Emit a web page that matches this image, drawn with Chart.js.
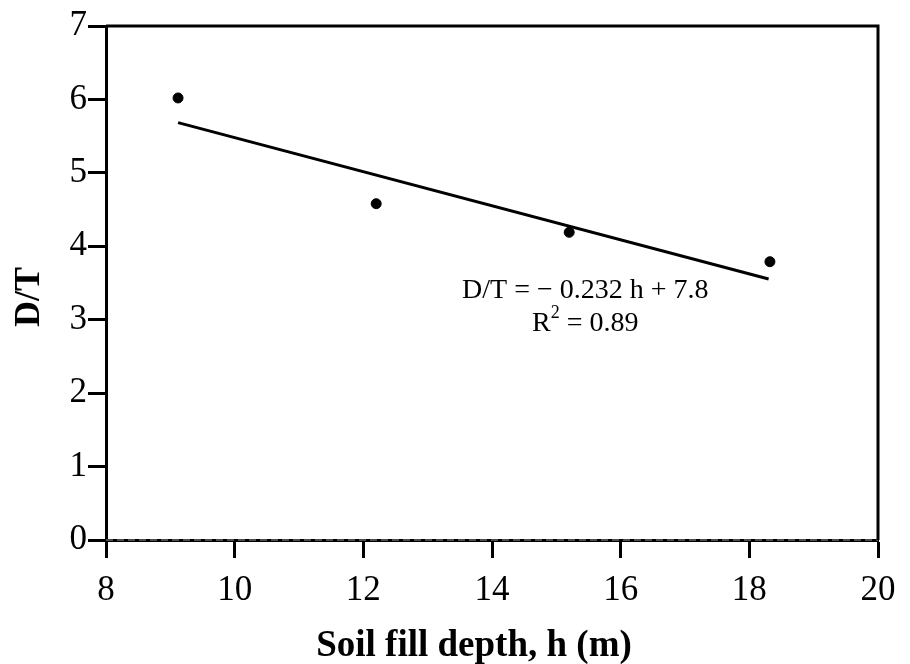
<!DOCTYPE html>
<html>
<head>
<meta charset="utf-8">
<script src="https://cdn.jsdelivr.net/npm/chart.js@4.4.0/dist/chart.umd.min.js"></script>
<style>
  body { margin: 0; background: #fff; }
  #dt { display: block; }
</style>
</head>
<body>
<canvas id="dt" width="910" height="664"></canvas>
<script>
// measured D/T ratios against soil fill depth
const depth = [9.12, 12.2, 15.2, 18.32];
const ratio = [6.02, 4.58, 4.19, 3.79];

// least-squares fit shown on the plot
const slope = -0.232;
const intercept = 7.8;
const fitRange = [9.12, 18.3];

const xTicks = [8, 10, 12, 14, 16, 18, 20];
const yTicks = [0, 1, 2, 3, 4, 5, 6, 7];

const xTitle = 'Soil fill depth, h (m)';
const yTitle = 'D/T';

const serif = "'Liberation Serif', 'Times New Roman', serif";

const points = depth.map((h, i) => ({ x: h, y: ratio[i] }));
const fitLine = fitRange.map(h => ({ x: h, y: slope * h + intercept }));

// closes the box on the top and right sides
const frame = {
  id: 'frame',
  afterDraw(chart) {
    const { ctx, chartArea: a } = chart;
    ctx.save();
    ctx.strokeStyle = '#000';
    ctx.lineWidth = 3;
    ctx.beginPath();
    ctx.moveTo(a.left, a.top);
    ctx.lineTo(a.right, a.top);
    ctx.lineTo(a.right, a.bottom);
    ctx.stroke();
    ctx.restore();
  }
};

// axis titles, set a little off the axis centres
const titles = {
  id: 'titles',
  afterDraw(chart) {
    const { ctx } = chart;
    ctx.save();
    ctx.fillStyle = '#000';
    ctx.textAlign = 'center';
    ctx.textBaseline = 'middle';
    ctx.font = 'bold 37px ' + serif;
    ctx.fillText(xTitle, 474, 646);
    ctx.translate(30, 297);
    ctx.rotate(-Math.PI / 2);
    ctx.font = 'bold 36px ' + serif;
    ctx.fillText(yTitle, 0, 0);
    ctx.restore();
  }
};

// regression equation text
const equation = {
  id: 'equation',
  afterDatasetsDraw(chart) {
    const { ctx, scales: { x, y } } = chart;
    const cx = x.getPixelForValue(15.45);
    const y1 = y.getPixelForValue(3.39);
    const y2 = y.getPixelForValue(2.95);
    ctx.save();
    ctx.fillStyle = '#000';
    ctx.textBaseline = 'middle';
    ctx.font = '28px ' + serif;
    ctx.textAlign = 'center';
    ctx.fillText('D/T = \u2212 0.232 h + 7.8', cx, y1);

    // R² with a raised small 2
    const big = '28px ' + serif, small = '18px ' + serif;
    ctx.font = big;
    const wR = ctx.measureText('R').width;
    const wRest = ctx.measureText(' = 0.89').width;
    ctx.font = small;
    const w2 = ctx.measureText('2').width;
    let sx = cx - (wR + w2 + wRest) / 2;
    ctx.textAlign = 'left';
    ctx.font = big;
    ctx.fillText('R', sx, y2);
    ctx.font = small;
    ctx.fillText('2', sx + wR, y2 - 10);
    ctx.font = big;
    ctx.fillText(' = 0.89', sx + wR + w2, y2);
    ctx.restore();
  }
};

new Chart(document.getElementById('dt'), {
  type: 'scatter',
  data: {
    datasets: [
      {
        data: points,
        backgroundColor: '#000',
        borderColor: '#000',
        pointRadius: 5,
        pointHoverRadius: 5
      },
      {
        type: 'line',
        data: fitLine,
        borderColor: '#000',
        borderWidth: 3,
        pointRadius: 0,
        fill: false
      },
      {
        type: 'line',
        data: [{ x: 8, y: 0 }, { x: 20, y: 0 }],
        borderColor: '#9a9a9a',
        borderWidth: 1,
        borderDash: [7, 4],
        pointRadius: 0,
        clip: false
      }
    ]
  },
  options: {
    responsive: false,
    animation: false,
    events: [],
    layout: { padding: { top: 26, right: 32, left: 0, bottom: 0 } },
    plugins: { legend: { display: false }, tooltip: { enabled: false } },
    scales: {
      x: {
        type: 'linear',
        min: 8,
        max: 20,
        afterBuildTicks: s => { s.ticks = xTicks.map(v => ({ value: v })); },
        afterFit: s => { s.height = 124; },
        border: { display: true, color: '#000', width: 3 },
        grid: { drawOnChartArea: false, tickLength: 18, tickWidth: 3, tickColor: '#000' },
        ticks: { color: '#000', padding: 12, font: { family: serif, size: 35 } }
      },
      y: {
        min: 0,
        max: 7,
        afterBuildTicks: s => { s.ticks = yTicks.map(v => ({ value: v })); },
        afterFit: s => { s.width = 106; },
        border: { display: true, color: '#000', width: 3 },
        grid: { drawOnChartArea: false, tickLength: 18, tickWidth: 3, tickColor: '#000' },
        ticks: { color: '#000', padding: 1, font: { family: serif, size: 35 } }
      }
    }
  },
  plugins: [frame, titles, equation]
});
</script>
</body>
</html>
